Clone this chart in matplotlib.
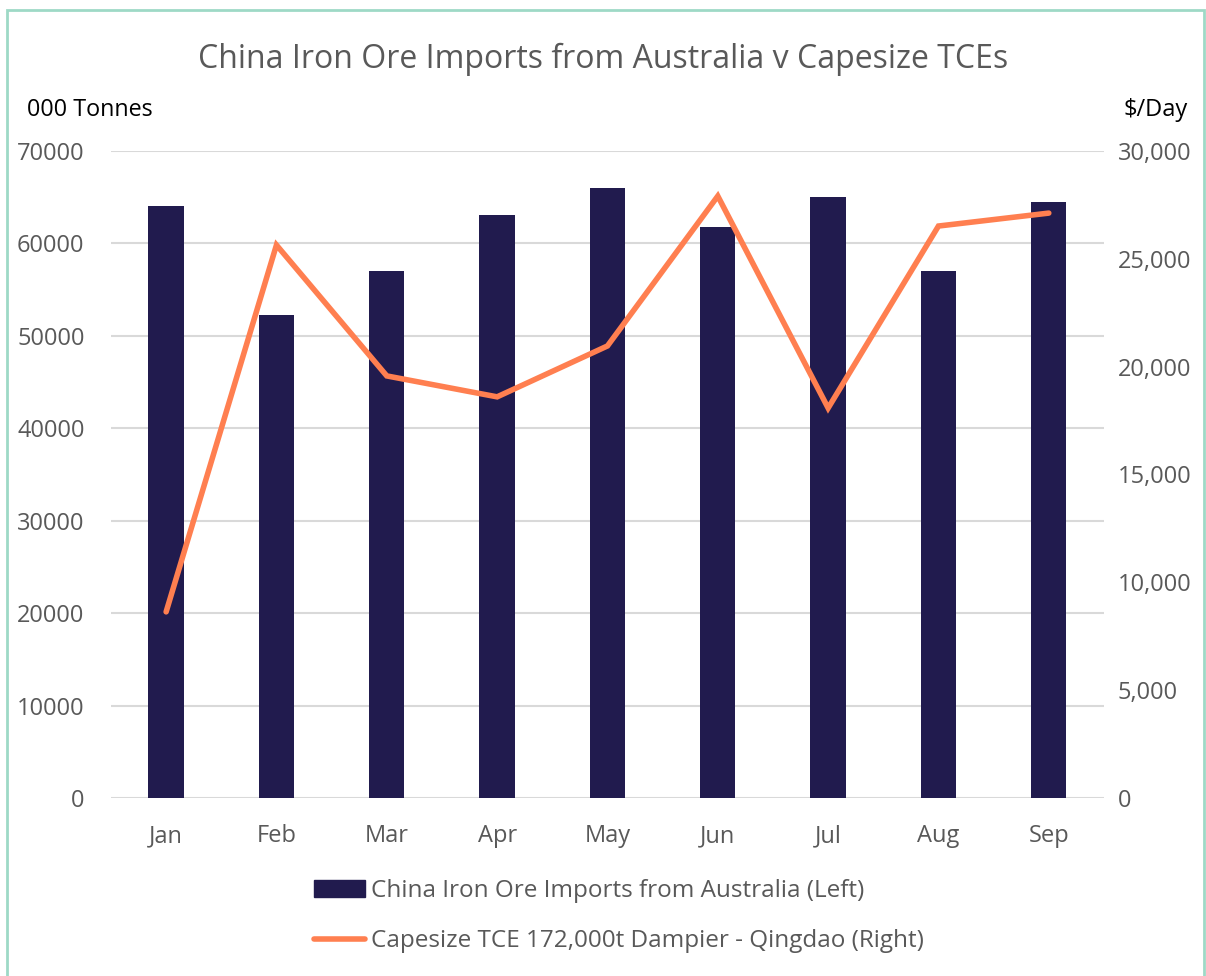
import matplotlib.pyplot as plt
import matplotlib.patches as mpatches
import numpy as np

plt.rcParams['font.family'] = ['Open Sans', 'DejaVu Sans']

months = ["Jan", "Feb", "Mar", "Apr", "May", "Jun", "Jul", "Aug", "Sep"]
imports = [64050, 52300, 57000, 63100, 66000, 61800, 65000, 57000, 64500]
tce = [8630, 25640, 19570, 18600, 20960, 27910, 18080, 26520, 27120]

bar_col = "#211B4E"
line_col = "#FF7F50"
txt_col = "#595959"

fig = plt.figure(figsize=(12.06, 9.76), dpi=100)
ax = fig.add_axes([0.092, 0.1824, 0.8234, 0.6629])
ax2 = ax.twinx()

x = np.arange(len(months))
ax.bar(x, imports, width=0.32, color=bar_col, zorder=3,
       label="China Iron Ore Imports from Australia (Left)")
ax2.plot(x, tce, color=line_col, lw=4, solid_capstyle="round", solid_joinstyle="miter",
         label="Capesize TCE 172,000t Dampier - Qingdao (Right)")

ax.set_xlim(-0.5, len(months) - 0.5)
ax.set_ylim(0, 70000)
ax.set_yticks(np.arange(0, 70001, 10000))
ax2.set_ylim(0, 30000)
ax2.set_yticks(np.arange(0, 30001, 5000))
ax2.set_yticklabels([f"{v:,}" for v in range(0, 30001, 5000)])
ax.set_xticks(x)
ax.set_xticklabels(months)

ax.grid(axis="y", color="#D9D9D9", lw=1.5, zorder=0)
for a in (ax, ax2):
    for s in a.spines.values():
        s.set_visible(False)
    a.tick_params(length=0, labelsize=17, labelcolor=txt_col)
ax.tick_params(axis="y", pad=19)
ax2.tick_params(axis="y", pad=10)
ax.tick_params(axis="x", pad=19)

fig.text(0.5, 0.939, "China Iron Ore Imports from Australia v Capesize TCEs",
         ha="center", va="center", fontsize=23, color=txt_col)
fig.text(0.022, 0.887, "000 Tonnes", ha="left", va="center", fontsize=16.8, color="black")
fig.text(0.985, 0.887, "$/Day", ha="right", va="center", fontsize=17, color="black")

handles = [mpatches.Patch(color=bar_col), plt.Line2D([], [], color=line_col, lw=4, solid_capstyle="round")]
labels = ["China Iron Ore Imports from Australia (Left)", "Capesize TCE 172,000t Dampier - Qingdao (Right)"]
leg = fig.legend(handles, labels, loc="center", bbox_to_anchor=(0.513, 0.0615), frameon=False,
                 fontsize=17.5, labelcolor=txt_col, handlelength=2.1, handletextpad=0.25,
                 labelspacing=1.1)

border = mpatches.Rectangle((0.006, -0.01), 0.992, 0.9997, transform=fig.transFigure,
                            fill=False, edgecolor="#9ED9C6", lw=2)
fig.patches.append(border)

fig.savefig("out.png", dpi=100)
